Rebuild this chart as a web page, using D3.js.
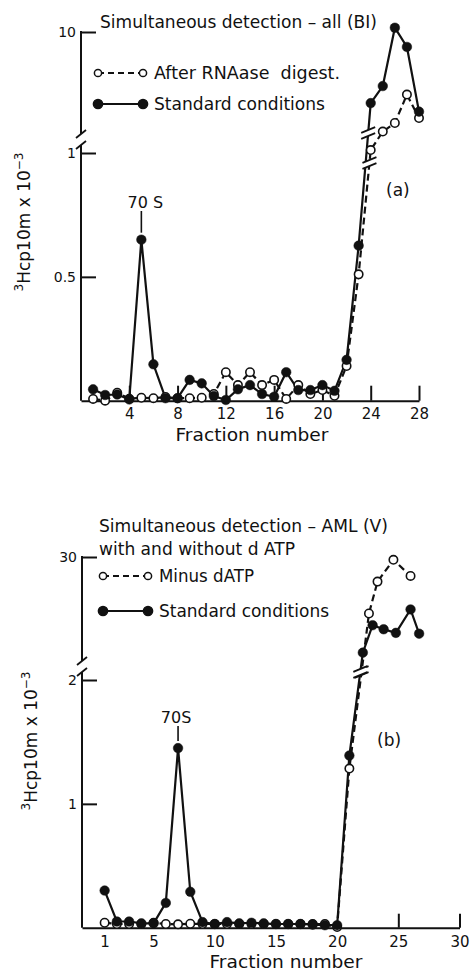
<!DOCTYPE html>
<html lang="en">
<head>
<meta charset="UTF-8" />
<title>Simultaneous detection</title>
<script src="https://d3js.org/d3.v7.min.js"></script>
<style>
  body { margin: 0; background: #fff; }
  svg { display: block; }
  text { font-family: "DejaVu Sans", sans-serif; fill: #111; }
</style>
</head>
<body>
<div id="chart"></div>
<script>
  // ---- panel (a): Simultaneous detection - all (BI)
  const fractionsA = [1, 2, 3, 4, 5, 6, 7, 8, 9, 10, 11, 12, 13, 14, 15, 16, 17, 18, 19, 20, 21, 22, 23, 24, 25, 26, 27, 28];
  const standardA = [0.046, 0.023, 0.025, 0.005, 0.65, 0.147, 0.01, 0.01, 0.084, 0.07, 0.019, 0.003, 0.046, 0.063,
                     0.027, 0.016, 0.115, 0.043, 0.043, 0.063, 0.04, 0.165, 0.626, 5.0, 6.2, 10.3, 8.95, 4.4];
  const rnaseA = [0.007, 0.0, 0.032, 0.008, 0.012, 0.01, 0.015, 0.01, 0.01, 0.012, 0.027, 0.115, 0.063, 0.115,
                  0.063, 0.084, 0.007, 0.063, 0.027, 0.043, 0.02, 0.14, 0.51, 1.7, 3.0, 3.6, 5.6, 3.95];
  const xTicksA = [4, 8, 12, 16, 20, 24, 28];
  const yTicksLoA = [0.5, 1];
  const yTicksHiA = [10];

  // ---- panel (b): Simultaneous detection - AML (V)
  const fractionsStdB = [1, 2, 3, 4, 5, 6, 7, 8, 9, 10, 11, 12, 13, 14, 15, 16, 17, 18, 19, 20, 21,
                         22.1, 22.9, 23.8, 24.8, 26.0, 26.7];
  const standardB = [0.30, 0.05, 0.05, 0.035, 0.035, 0.20, 1.45, 0.29, 0.045, 0.03, 0.045, 0.035, 0.04, 0.035,
                     0.03, 0.03, 0.03, 0.025, 0.02, 0.02, 1.39, 6.3, 13.1, 12.1, 11.2, 17.0, 11.0];
  const fractionsMinusB = [1, 2, 3, 4, 5, 6, 7, 8, 9, 10, 11, 12, 13, 14, 15, 16, 17, 18, 19, 20, 21,
                           22.6, 23.3, 24.6, 26.0];
  const minusB = [0.04, 0.03, 0.03, 0.03, 0.04, 0.03, 0.027, 0.032, 0.03, 0.03, 0.03, 0.03, 0.03, 0.03,
                  0.03, 0.03, 0.03, 0.03, 0.03, 0.005, 1.285, 16.0, 23.9, 29.3, 25.3];
  const xTicksB = [1, 5, 10, 15, 20, 25, 30];
  const xTickMarksB = [25, 30];
  const yTicksLoB = [1, 2];
  const yTicksHiB = [30];

  const width = 470, height = 974;
  const svg = d3.select("#chart").append("svg")
    .attr("width", width)
    .attr("height", height);

  const zip = (fs, vs) => fs.map((f, i) => ({ f: f, v: vs[i] }));

  function drawPanel(p) {
    const g = svg.append("g");
    const yOf = v => v > p.split ? p.yHi(v) : p.yLo(v);
    const x0 = p.x.range()[0];

    // y axis, broken
    g.append("line").attr("x1", x0).attr("x2", x0)
      .attr("y1", p.yHi(p.hiTicks[0]) - 1).attr("y2", p.breakY - 5)
      .attr("stroke", "#111").attr("stroke-width", 2);
    g.append("line").attr("x1", x0).attr("x2", x0)
      .attr("y1", p.breakY + 6).attr("y2", p.yLo(0))
      .attr("stroke", "#111").attr("stroke-width", 2);
    [p.breakY - 5, p.breakY + 6].forEach(y => {
      g.append("line").attr("x1", x0 - 5).attr("y1", y + 4).attr("x2", x0 + 5).attr("y2", y - 4)
        .attr("stroke", "#111").attr("stroke-width", 1.8);
    });

    const styleAxis = (sel, size) => {
      sel.select(".domain").remove();
      sel.attr("font-family", "DejaVu Sans, sans-serif").attr("font-size", size);
      sel.selectAll(".tick line").attr("stroke", "#111").attr("stroke-width", 2);
      sel.selectAll(".tick text").attr("fill", "#111");
    };

    g.append("g").attr("transform", `translate(${x0},0)`)
      .call(d3.axisLeft(p.yLo).tickValues(p.loTicks).tickSize(-15).tickPadding(5).tickFormat(d3.format("")))
      .call(s => styleAxis(s, 14));
    g.append("g").attr("transform", `translate(${x0},0)`)
      .call(d3.axisLeft(p.yHi).tickValues(p.hiTicks).tickSize(-15).tickPadding(5).tickFormat(d3.format("")))
      .call(s => styleAxis(s, 14));

    // x axis, ticks pointing up
    const xg = g.append("g").attr("transform", `translate(0,${p.yLo(0)})`)
      .call(d3.axisBottom(p.x).tickValues(p.xTicks).tickSize(-p.tickLen).tickSizeOuter(0).tickPadding(p.tickPad));
    xg.attr("font-family", "DejaVu Sans, sans-serif").attr("font-size", 15);
    xg.select(".domain").attr("stroke", "#111").attr("stroke-width", 2);
    xg.selectAll(".tick line").attr("stroke", "#111").attr("stroke-width", 2)
      .attr("display", d => p.tickMarks.includes(d) ? null : "none");
    xg.selectAll(".tick text").attr("fill", "#111");

    // series lines
    const line = d3.line().x(d => p.x(d.f)).y(d => yOf(d.v));
    p.series.forEach(s => {
      g.append("path").datum(s.pts)
        .attr("d", line)
        .attr("fill", "none")
        .attr("stroke", "#111")
        .attr("stroke-width", 2.2)
        .attr("stroke-dasharray", s.dashed ? "7,4" : null);
    });

    // break marks where a line jumps from the lower to the upper scale
    p.series.forEach(s => {
      for (let i = 0; i < s.pts.length - 1; i++) {
        const a = s.pts[i], b = s.pts[i + 1];
        if ((a.v > p.split) === (b.v > p.split)) continue;
        const ax = p.x(a.f), ay = yOf(a.v), bx = p.x(b.f), by = yOf(b.v);
        let t = (ay - s.breakY) / (ay - by);
        t = Math.max(0.1, Math.min(0.95, t));
        const cx = ax + (bx - ax) * t, cy = ay + (by - ay) * t;
        g.append("polygon")
          .attr("points", [[cx - 6, cy - 0.5], [cx + 6, cy - 5.5], [cx + 6, cy + 0.5], [cx - 6, cy + 5.5]].join(" "))
          .attr("fill", "#fff");
        [cy - 3, cy + 3].forEach(yy => {
          g.append("line").attr("x1", cx - 7).attr("y1", yy + 2.8).attr("x2", cx + 7).attr("y2", yy - 2.8)
            .attr("stroke", "#111").attr("stroke-width", 1.8);
        });
      }
    });

    // markers: open first, filled on top
    p.series.slice().sort((a, b) => (a.open ? 0 : 1) - (b.open ? 0 : 1)).forEach(s => {
      g.selectAll(null).data(s.pts).enter().append("circle")
        .attr("cx", d => p.x(d.f))
        .attr("cy", d => yOf(d.v))
        .attr("r", s.open ? 4.2 : 4.8)
        .attr("fill", s.open ? "#fff" : "#111")
        .attr("stroke", "#111")
        .attr("stroke-width", s.open ? 1.6 : 0.5);
    });

    // 70 S label with leader
    const peak = p.peak;
    g.append("line")
      .attr("x1", p.x(peak.f)).attr("x2", p.x(peak.f))
      .attr("y1", p.peakLabelY + 3).attr("y2", yOf(peak.v) - 7)
      .attr("stroke", "#111").attr("stroke-width", 1.6);
    g.append("text").attr("x", p.x(peak.f) + p.peakLabelDx).attr("y", p.peakLabelY)
      .attr("text-anchor", "middle").attr("font-size", 16).text(p.peakLabel);

    // legend
    p.legend.forEach((l, i) => {
      const y = p.legendY[i];
      g.append("line").attr("x1", p.legendX).attr("x2", p.legendX + 45).attr("y1", y).attr("y2", y)
        .attr("stroke", "#111").attr("stroke-width", 2)
        .attr("stroke-dasharray", l.dashed ? "6,4" : null);
      [p.legendX, p.legendX + 45].forEach(cx => {
        g.append("circle").attr("cx", cx).attr("cy", y).attr("r", l.dashed ? 3.6 : 4.6)
          .attr("fill", l.dashed ? "#fff" : "#111").attr("stroke", "#111").attr("stroke-width", 1.5);
      });
      g.append("text").attr("x", p.legendX + 56).attr("y", y + 6)
        .attr("font-size", 17).attr("textLength", l.len).attr("lengthAdjust", "spacingAndGlyphs")
        .text(l.label);
    });

    // titles
    p.titles.forEach(t => {
      g.append("text").attr("x", t.x).attr("y", t.y).attr("font-size", 17)
        .attr("textLength", t.len).attr("lengthAdjust", "spacingAndGlyphs").text(t.text);
    });

    // panel tag
    g.append("text").attr("x", p.tag.x).attr("y", p.tag.y).attr("font-size", 17).text(p.tag.text);

    // axis titles
    g.append("text").attr("x", p.xLabelX).attr("y", p.yLo(0) + 40)
      .attr("text-anchor", "middle").attr("font-size", 17)
      .attr("textLength", 153).attr("lengthAdjust", "spacingAndGlyphs")
      .text("Fraction number");

    const yl = g.append("text")
      .attr("transform", `translate(${p.yLabel.x},${p.yLabel.y}) rotate(-90)`)
      .attr("text-anchor", "middle").attr("font-size", 17);
    yl.append("tspan").attr("font-size", 12).attr("dy", -7).text("3");
    yl.append("tspan").attr("dy", 7).text("Hcp10m x 10");
    yl.append("tspan").attr("font-size", 12).attr("dy", -7).text("\u22123");
  }

  // panel (a)
  drawPanel({
    x: d3.scaleLinear().domain([0, 28]).range([81, 419]),
    yLo: d3.scaleLinear().domain([0, 1]).range([400.7, 153]),
    yHi: d3.scaleLinear().domain([1, 10]).range([160, 32]),
    split: 1,
    breakY: 139,
    loTicks: yTicksLoA,
    hiTicks: yTicksHiA,
    xTicks: xTicksA,
    tickMarks: xTicksA,
    tickLen: 15,
    tickPad: 8,
    series: [
      { pts: zip(fractionsA, rnaseA), dashed: true, open: true, breakY: 163 },
      { pts: zip(fractionsA, standardA), dashed: false, open: false, breakY: 133 }
    ],
    peak: { f: fractionsA[4], v: standardA[4] },
    peakLabel: "70 S",
    peakLabelDx: 4,
    peakLabelY: 208,
    legend: [
      { label: "After RNAase\u00a0 digest.", dashed: true, len: 186 },
      { label: "Standard conditions", dashed: false, len: 171 }
    ],
    legendX: 98,
    legendY: [73, 104],
    titles: [{ text: "Simultaneous detection \u2013 all (BI)", x: 100, y: 28, len: 277 }],
    tag: { text: "(a)", x: 386, y: 196 },
    xLabelX: 252,
    yLabel: { x: 30, y: 222 }
  });

  // panel (b)
  drawPanel({
    x: d3.scaleLinear().domain([-0.85, 30]).range([82, 459.5]),
    yLo: d3.scaleLinear().domain([0, 2]).range([927.7, 680]),
    yHi: d3.scaleLinear().domain([2, 30]).range([670, 557]),
    split: 2,
    breakY: 666,
    loTicks: yTicksLoB,
    hiTicks: yTicksHiB,
    xTicks: xTicksB,
    tickMarks: xTickMarksB,
    tickLen: 14,
    tickPad: 8.5,
    series: [
      { pts: zip(fractionsMinusB, minusB), dashed: true, open: true, breakY: 672 },
      { pts: zip(fractionsStdB, standardB), dashed: false, open: false, breakY: 672 }
    ],
    peak: { f: fractionsStdB[6], v: standardB[6] },
    peakLabel: "70S",
    peakLabelDx: -2,
    peakLabelY: 723,
    legend: [
      { label: "Minus dATP", dashed: true, len: 95 },
      { label: "Standard conditions", dashed: false, len: 170 }
    ],
    legendX: 103,
    legendY: [576, 611],
    titles: [
      { text: "Simultaneous detection \u2013 AML (V)", x: 99, y: 532, len: 289 },
      { text: "with and without d ATP", x: 99, y: 555, len: 196 }
    ],
    tag: { text: "(b)", x: 377, y: 746 },
    xLabelX: 286,
    yLabel: { x: 37, y: 741 }
  });
</script>
</body>
</html>
